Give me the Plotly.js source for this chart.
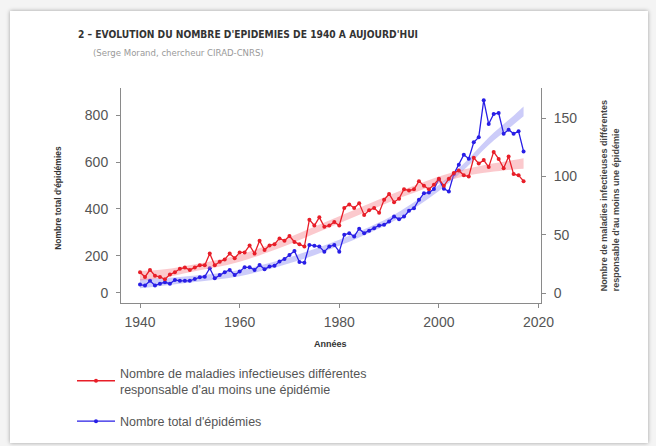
<!DOCTYPE html>
<html>
<head>
<meta charset="utf-8">
<script src="https://cdn.plot.ly/plotly-3.0.1.min.js"></script>
<style>
  html, body { margin:0; padding:0; background:#f4f4f4; }
  #card { position:absolute; left:10px; top:11px; width:638px; height:432px; background:#fff; box-shadow:0 0 4px rgba(0,0,0,0.35); }
  #chart { position:absolute; left:0; top:0; width:656px; height:446px; }
</style>
</head>
<body>
<div id="card"></div>
<div id="chart"></div>
<script>
// ---- Data ----
const years = [1940,1941,1942,1943,1944,1945,1946,1947,1948,1949,
  1950,1951,1952,1953,1954,1955,1956,1957,1958,1959,
  1960,1961,1962,1963,1964,1965,1966,1967,1968,1969,
  1970,1971,1972,1973,1974,1975,1976,1977,1978,1979,
  1980,1981,1982,1983,1984,1985,1986,1987,1988,1989,
  1990,1991,1992,1993,1994,1995,1996,1997,1998,1999,
  2000,2001,2002,2003,2004,2005,2006,2007,2008,2009,
  2010,2011,2012,2013,2014,2015,2016,2017];

// Nombre de maladies infectieuses différentes (right axis)
const maladies = [18,14,20,15,14,12,16,18,21,22,
  20,22,24,24,34,24,27,29,34,30,
  35,35,41,34,45,37,41,42,47,45,
  49,44,42,40,63,58,65,57,58,61,
  58,73,76,73,77,67,71,73,69,80,
  85,78,81,89,88,89,96,92,89,93,
  98,92,98,103,105,101,100,116,111,114,
  108,121,115,107,117,102,101,96];

// Nombre total d'épidémies (left axis)
const epidemies = [76,72,92,72,80,86,80,96,92,92,
  92,100,107,110,146,103,117,129,139,117,
  132,150,150,139,160,142,153,157,175,186,
  203,220,173,170,246,242,239,217,239,246,
  217,289,296,282,315,296,306,317,329,332,
  346,367,356,367,392,403,439,467,470,485,
  527,486,475,549,589,632,615,685,707,865,
  763,806,810,722,739,722,732,646];

// Fitted trend bands (centre and half-width)
const bandYears = [1940,1945,1950,1955,1960,1965,1970,1975,1980,1985,1990,1995,2000,2005,2010,2015,2017];
const trendMaladies = [15,17,21,25,30,37,45,54,63,72,81,89,97,103,107,110,111];
const halfMaladies  = [4,3.5,3,3,3,3,3,3,3,3,3,3,3,3,3.5,4,4.5];
const trendEpidemies = [80,88,99,110,125,150,180,215,255,300,350,415,490,580,690,780,817];
const halfEpidemies  = [20,16,14,13,13,13,13,13,13,13,13,13,13,14,16,19,21];

const xTicks = [1940,1960,1980,2000,2020];
const leftTickText = ['0','200','400','600','800'];
const rightTicks = [0,50,100,150];

const labelMaladies = 'Nombre de maladies infectieuses différentes<br>responsable d\'au moins une épidémie';
const labelEpidemies = 'Nombre total d\'épidémies';

// ---- Styling ----
const FONT = 'Liberation Sans, Arial, sans-serif';
const NARROW = 'Liberation Sans Narrow, DejaVu Sans Condensed, Liberation Sans, sans-serif';
const RED = 'rgb(232,30,40)';
const BLUE = 'rgb(40,30,230)';

const lower = (c, h) => c.map((v, i) => v - h[i]);
const upper = (c, h) => c.map((v, i) => v + h[i]);

const traces = [
  { x: bandYears, y: lower(trendEpidemies, halfEpidemies), yaxis: 'y', mode: 'lines',
    line: { width: 0, shape: 'spline', color: 'rgba(0,0,0,0)' }, showlegend: false, hoverinfo: 'skip' },
  { x: bandYears, y: upper(trendEpidemies, halfEpidemies), yaxis: 'y', mode: 'lines', fill: 'tonexty',
    fillcolor: 'rgba(120,120,240,0.38)', line: { width: 0, shape: 'spline', color: 'rgba(0,0,0,0)' },
    showlegend: false, hoverinfo: 'skip' },
  { x: bandYears, y: lower(trendMaladies, halfMaladies), yaxis: 'y2', mode: 'lines',
    line: { width: 0, shape: 'spline', color: 'rgba(0,0,0,0)' }, showlegend: false, hoverinfo: 'skip' },
  { x: bandYears, y: upper(trendMaladies, halfMaladies), yaxis: 'y2', mode: 'lines', fill: 'tonexty',
    fillcolor: 'rgba(245,120,130,0.40)', line: { width: 0, shape: 'spline', color: 'rgba(0,0,0,0)' },
    showlegend: false, hoverinfo: 'skip' },
  { x: years, y: maladies, yaxis: 'y2', mode: 'lines+markers', name: labelMaladies,
    legendgroup: 'a', line: { color: RED, width: 1.3 }, marker: { color: RED, size: 4 } },
  { x: years, y: epidemies, yaxis: 'y', mode: 'lines+markers', name: labelEpidemies,
    legendgroup: 'b', line: { color: BLUE, width: 1.3 }, marker: { color: BLUE, size: 4 } }
];

const axisCommon = {
  showgrid: false, zeroline: false, showline: true, linecolor: '#8a8a8a', linewidth: 1,
  ticks: 'outside', ticklen: 4, tickcolor: '#8a8a8a', tickwidth: 1, automargin: false,
  tickfont: { family: FONT, size: 14, color: '#555' }, fixedrange: true
};

const layout = {
  width: 656, height: 446,
  margin: { l: 121, r: 115, t: 88, b: 143, autoexpand: false },
  paper_bgcolor: 'rgba(0,0,0,0)', plot_bgcolor: 'rgba(0,0,0,0)',
  font: { family: FONT, color: '#555' },
  xaxis: Object.assign({}, axisCommon, { range: [1936.18, 2020.5], tickvals: xTicks, ticklabelstandoff: 2 }),
  yaxis: Object.assign({}, axisCommon, { range: [-2.7, 917.4], tickvals: [41, 200, 400, 600, 800],
    ticktext: leftTickText, ticklabelstandoff: 5 }),
  yaxis2: Object.assign({}, axisCommon, { range: [-8.3, 175.7], overlaying: 'y', side: 'right',
    tickvals: rightTicks, ticklabelstandoff: 5 }),
  showlegend: true,
  legend: { xref: 'container', yref: 'container', x: 72/656, y: 1 - 358/446, xanchor: 'left', yanchor: 'top',
    font: { family: FONT, size: 12.5, color: '#555' }, traceorder: 'grouped', tracegroupgap: 13,
    bgcolor: 'rgba(0,0,0,0)', itemwidth: 38 },
  annotations: [
    { xref: 'paper', yref: 'paper', x: (76-121)/419, y: (303-35)/215, xanchor: 'left', yanchor: 'middle',
      text: '2 – EVOLUTION DU NOMBRE D\'EPIDEMIES DE 1940 A AUJOURD\'HUI', showarrow: false,
      font: { family: NARROW, size: 10.2, color: '#333', weight: 'bold' } },
    { xref: 'paper', yref: 'paper', x: (91-121)/419, y: (303-53)/215, xanchor: 'left', yanchor: 'middle',
      text: '(Serge Morand, chercheur CIRAD-CNRS)', showarrow: false,
      font: { family: NARROW, size: 9.5, color: '#9a9a9a' } },
    { xref: 'paper', yref: 'paper', x: (330-121)/419, y: (303-344)/215, xanchor: 'center', yanchor: 'middle',
      text: 'Années', showarrow: false, font: { family: FONT, size: 9, color: '#333', weight: 'bold' } },
    { xref: 'paper', yref: 'paper', x: (58-121)/419, y: (303-198)/215, xanchor: 'center', yanchor: 'middle',
      textangle: -90, text: 'Nombre total d\'épidémies', showarrow: false,
      font: { family: FONT, size: 8.5, color: '#333', weight: 'bold' } },
    { xref: 'paper', yref: 'paper', x: (609-121)/419, y: (303-196)/215, xanchor: 'center', yanchor: 'middle',
      textangle: -90, align: 'left',
      text: 'Nombre de maladies infectieuses différentes<br>responsable d\'au moins une épidémie', showarrow: false,
      font: { family: FONT, size: 9, color: '#444', weight: 'bold' } }
  ]
};

Plotly.newPlot('chart', traces, layout, { displayModeBar: false, staticPlot: true });
</script>
</body>
</html>
